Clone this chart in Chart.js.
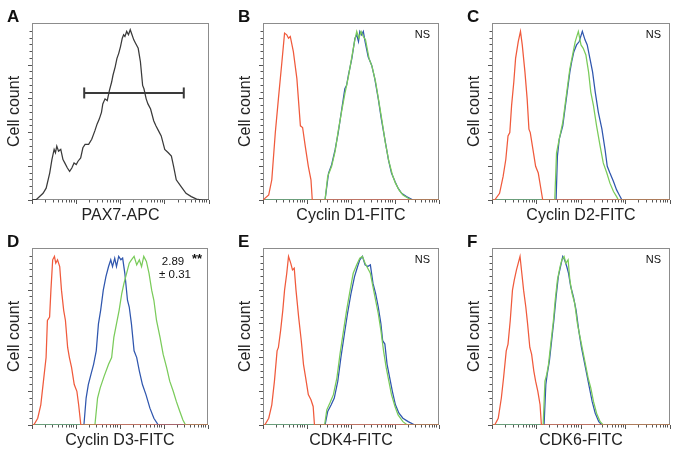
<!DOCTYPE html>
<html>
<head>
<meta charset="utf-8">
<script src="https://cdn.jsdelivr.net/npm/chart.js@4.4.1/dist/chart.umd.min.js"></script>
<style>
  body { margin: 0; background: #fff; }
  #fig { position: relative; width: 678px; height: 458px; }
  #fig canvas { position: absolute; }
</style>
</head>
<body>
<div id="fig"></div>
<script>
// x = position in log decades (0 -> 10^0 ... 4 -> 10^4), y = % of peak count
const pax7 = [[0,0],[0.1,0.3],[0.25,4],[0.32,7],[0.4,16],[0.45,24],[0.5,30],[0.53,28],[0.56,32],[0.6,29],[0.65,30],[0.7,24],[0.74,22],[0.8,19],[0.85,17],[0.9,19],[0.95,22],[1.0,21],[1.04,23],[1.1,25],[1.15,31],[1.2,33],[1.28,33],[1.35,36],[1.42,41],[1.47,45],[1.52,48],[1.57,52],[1.6,57],[1.65,60],[1.7,59],[1.75,65],[1.8,70],[1.83,74],[1.88,79],[1.92,84],[1.96,87],[2.0,91],[2.04,96],[2.07,98],[2.1,97],[2.14,100],[2.18,98],[2.22,101],[2.26,98],[2.3,95],[2.34,93],[2.4,90],[2.45,82],[2.5,68],[2.53,66],[2.58,60],[2.62,57],[2.68,54],[2.75,47],[2.8,44],[2.86,41],[2.92,38],[3.0,30],[3.08,28],[3.15,26],[3.2,20],[3.26,12],[3.37,8],[3.48,4],[3.6,2],[3.72,0.5],[3.85,0],[4,0]];
const gateA = [[1.18,63.5],[3.43,63.5]];

const redB = [[0,0],[0.13,3],[0.2,12],[0.28,40],[0.35,60],[0.43,82],[0.49,99],[0.54,98],[0.58,96],[0.62,97],[0.69,88],[0.77,72],[0.85,44],[0.9,43],[0.96,32],[1.03,20],[1.09,12],[1.12,0],[4,0]];
const blueB = [[0,0],[1.41,0],[1.49,16],[1.56,21],[1.64,30],[1.71,40],[1.79,54],[1.86,66],[1.9,68],[1.94,74],[2.02,84],[2.09,96],[2.13,98],[2.17,94],[2.2,100],[2.24,98],[2.28,100],[2.32,94],[2.39,85],[2.47,80],[2.54,72],[2.62,60],[2.69,48],[2.77,36],[2.85,24],[2.92,16],[3.0,11],[3.07,7],[3.15,4],[3.26,2],[3.41,0],[4,0]];
const greenB = [[0,0],[1.41,0],[1.47,14],[1.56,20],[1.64,29],[1.71,41],[1.79,53],[1.86,63],[1.94,73],[2.02,85],[2.08,94],[2.13,100],[2.18,96],[2.23,100],[2.28,97],[2.33,95],[2.41,84],[2.48,79],[2.56,70],[2.63,59],[2.71,46],[2.78,34],[2.86,23],[2.94,15],[3.01,10],[3.09,6],[3.18,3],[3.3,1],[3.37,0],[4,0]];

const redC = [[0,0],[0.06,0],[0.17,4],[0.25,14],[0.31,24],[0.36,38],[0.4,40],[0.44,56],[0.49,70],[0.53,84],[0.59,94],[0.64,100],[0.68,92],[0.74,76],[0.79,60],[0.83,42],[0.86,40],[0.92,30],[0.98,20],[1.04,16],[1.09,8],[1.14,0],[4,0]];
const blueC = [[0,0],[1.44,0],[1.47,26],[1.51,36],[1.59,44],[1.64,54],[1.69,64],[1.75,76],[1.79,82],[1.84,88],[1.9,92],[1.96,94],[2.03,100],[2.09,95],[2.14,92],[2.2,84],[2.26,76],[2.32,64],[2.39,52],[2.47,42],[2.54,30],[2.59,20],[2.65,16],[2.73,11],[2.8,6],[2.86,3],[2.92,0],[4,0]];
const greenC = [[0,0],[1.41,0],[1.45,28],[1.51,36],[1.59,46],[1.64,56],[1.69,66],[1.75,78],[1.81,86],[1.87,94],[1.94,100],[2.0,92],[2.05,90],[2.11,86],[2.17,76],[2.22,64],[2.28,56],[2.35,44],[2.43,32],[2.5,22],[2.58,16],[2.65,10],[2.73,5],[2.8,2],[2.84,0],[4,0]];

const redD = [[0,0],[0.04,0],[0.13,4],[0.2,12],[0.26,26],[0.32,40],[0.35,62],[0.4,64],[0.43,80],[0.47,98],[0.51,100],[0.54,96],[0.58,98],[0.63,94],[0.67,80],[0.72,68],[0.76,62],[0.81,46],[0.85,40],[0.9,34],[0.96,24],[1.02,20],[1.06,12],[1.11,0],[4,0]];
const blueD = [[0,0],[1.18,0],[1.23,16],[1.28,24],[1.34,30],[1.4,36],[1.46,44],[1.51,60],[1.56,68],[1.62,80],[1.68,88],[1.74,94],[1.79,98],[1.83,94],[1.88,99],[1.92,94],[1.97,100],[2.02,98],[2.06,99],[2.11,90],[2.17,74],[2.21,70],[2.26,60],[2.32,44],[2.38,40],[2.44,32],[2.51,24],[2.59,18],[2.68,10],[2.77,4],[2.87,0],[4,0]];
const greenD = [[0,0],[1.43,0],[1.49,16],[1.55,22],[1.64,29],[1.74,36],[1.81,40],[1.86,52],[1.92,60],[1.98,68],[2.04,78],[2.09,84],[2.15,90],[2.21,96],[2.26,98],[2.32,100],[2.38,95],[2.44,98],[2.49,94],[2.54,100],[2.6,97],[2.66,90],[2.72,80],[2.77,74],[2.83,62],[2.91,52],[2.98,42],[3.06,34],[3.13,26],[3.21,20],[3.28,14],[3.36,8],[3.43,3],[3.49,0],[4,0]];

const redE = [[0,0],[0.04,0],[0.13,4],[0.2,12],[0.26,26],[0.32,44],[0.35,46],[0.4,56],[0.45,68],[0.49,80],[0.54,90],[0.58,100],[0.63,96],[0.67,92],[0.71,93],[0.75,80],[0.81,64],[0.87,50],[0.92,36],[0.97,28],[1.03,18],[1.09,15],[1.14,11],[1.17,0],[4,0]];
const blueE = [[0,0],[1.41,0],[1.47,8],[1.55,12],[1.62,16],[1.7,26],[1.77,40],[1.85,54],[1.92,66],[2.0,78],[2.08,88],[2.15,94],[2.2,98],[2.26,100],[2.32,95],[2.38,94],[2.44,95],[2.5,84],[2.56,78],[2.62,70],[2.68,60],[2.72,50],[2.77,48],[2.82,36],[2.88,28],[2.94,20],[3.01,12],[3.09,7],[3.18,4],[3.3,2],[3.45,0],[4,0]];
const greenE = [[0,0],[1.4,0],[1.45,9],[1.52,13],[1.6,18],[1.68,28],[1.75,42],[1.83,56],[1.9,68],[1.98,80],[2.05,90],[2.13,95],[2.2,99],[2.26,100],[2.32,96],[2.38,93],[2.44,90],[2.5,82],[2.56,74],[2.62,66],[2.68,56],[2.74,44],[2.8,34],[2.86,26],[2.92,18],[3.0,11],[3.07,6],[3.18,2],[3.28,0],[4,0]];

const redF = [[0,0],[0.06,0],[0.14,4],[0.21,16],[0.26,28],[0.32,44],[0.36,48],[0.41,62],[0.46,80],[0.5,86],[0.55,92],[0.59,96],[0.63,100],[0.67,90],[0.71,80],[0.76,70],[0.8,60],[0.85,46],[0.89,42],[0.94,32],[0.98,26],[1.03,20],[1.08,12],[1.11,0],[4,0]];
const blueF = [[0,0],[1.17,0],[1.21,24],[1.24,30],[1.29,38],[1.34,50],[1.39,62],[1.44,76],[1.49,88],[1.54,94],[1.59,100],[1.63,98],[1.68,94],[1.72,90],[1.77,82],[1.83,76],[1.89,68],[1.95,56],[2.01,46],[2.07,38],[2.13,30],[2.19,22],[2.25,14],[2.32,7],[2.4,2],[2.47,0],[4,0]];
const greenF = [[0,0],[1.15,0],[1.19,26],[1.23,30],[1.27,36],[1.32,48],[1.38,62],[1.42,74],[1.47,86],[1.53,94],[1.57,98],[1.62,100],[1.66,96],[1.71,98],[1.75,86],[1.8,78],[1.86,72],[1.92,60],[1.98,52],[2.04,44],[2.1,36],[2.16,28],[2.22,22],[2.28,14],[2.35,7],[2.43,2],[2.5,0],[4,0]];

const letters = ["A", "B", "C", "D", "E", "F"];
const xTitles = ["PAX7-APC", "Cyclin D1-FITC", "Cyclin D2-FITC", "Cyclin D3-FITC", "CDK4-FITC", "CDK6-FITC"];
const yTitle = "Cell count";

const RED = "#f05a3c", BLUE = "#2f56ae", GREEN = "#7acb5a", GRAY = "#3a3a3a";
const FONT = "'Liberation Sans', Arial, Helvetica, sans-serif";
Chart.defaults.font.family = FONT;
Chart.defaults.color = "#222";

// box around the plot area
const frame = {
    id: "frame",
    beforeDatasetsDraw(chart) {
        const {ctx, chartArea: a} = chart;
        ctx.save();
        ctx.strokeStyle = "#8c8c8c";
        ctx.lineWidth = 1;
        ctx.strokeRect(a.left + 0.5, a.top + 0.5, a.width - 1, a.height - 1);
        ctx.restore();
    },
};

// panel letter + small notes (NS, fold change)
const panelText = {
    id: "panelText",
    afterDraw(chart, args, opts) {
        const {ctx, chartArea: a} = chart;
        ctx.save();
        ctx.fillStyle = "#111";
        ctx.textBaseline = "alphabetic";
        ctx.font = "bold 17px " + FONT;
        ctx.fillText(opts.letter, a.left - 25, a.top - 1);
        (opts.notes || []).forEach(n => {
            ctx.font = n.font + " " + FONT;
            ctx.textAlign = n.align;
            ctx.fillText(n.text, a.right + n.dx, a.top + n.dy);
        });
        ctx.restore();
    },
};

const ns = [{text: "NS", font: "11px", align: "right", dx: -9, dy: 15}];
const foldD = [
    {text: "2.89", font: "11.5px", align: "center", dx: -35, dy: 17},
    {text: "± 0.31", font: "11.5px", align: "center", dx: -33, dy: 30},
    {text: "**", font: "bold 13px", align: "center", dx: -11, dy: 15},
];

function curve(data, color) {
    return {
        data: data.map(([x, y]) => ({x, y})),
        borderColor: color,
        borderWidth: 1.25,
        pointRadius: 0,
        tension: 0,
    };
}

const gate = {
    data: gateA.map(([x, y]) => ({x, y})),
    borderColor: GRAY,
    borderWidth: 2,
    pointStyle: "line",
    pointRadius: 5.5,
    pointRotation: 90,
    pointBorderColor: GRAY,
    pointBorderWidth: 2,
};

const panels = [
    {left: 0, top: 0, w: 225, h: 225, pad: [0, 16, 0], sets: [gate, curve(pax7, GRAY)]},
    {left: 225, top: 0, w: 225, h: 225, pad: [6, 11, 0], sets: [curve(redB, RED), curve(greenB, GREEN), curve(blueB, BLUE)], notes: ns},
    {left: 450, top: 0, w: 228, h: 225, pad: [10, 8, 0], sets: [curve(redC, RED), curve(greenC, GREEN), curve(blueC, BLUE)], notes: ns},
    {left: 0, top: 225, w: 225, h: 233, pad: [0, 17, 8], sets: [curve(redD, RED), curve(greenD, GREEN), curve(blueD, BLUE)], notes: foldD},
    {left: 225, top: 225, w: 225, h: 233, pad: [6, 11, 8], sets: [curve(redE, RED), curve(greenE, GREEN), curve(blueE, BLUE)], notes: ns},
    {left: 450, top: 225, w: 228, h: 233, pad: [10, 8, 8], sets: [curve(redF, RED), curve(greenF, GREEN), curve(blueF, BLUE)], notes: ns},
];

const tickGrid = len => ({drawOnChartArea: false, tickLength: len, tickColor: "#555", lineWidth: 1});

panels.forEach((p, i) => {
    const cv = document.createElement("canvas");
    cv.width = p.w;
    cv.height = p.h;
    cv.style.left = p.left + "px";
    cv.style.top = p.top + "px";
    document.getElementById("fig").appendChild(cv);

    new Chart(cv, {
        type: "line",
        data: {datasets: p.sets},
        options: {
            responsive: false,
            animation: false,
            devicePixelRatio: 1,
            layout: {padding: {left: p.pad[0], right: p.pad[1], top: 23, bottom: p.pad[2]}},
            plugins: {
                legend: {display: false},
                tooltip: {enabled: false},
                panelText: {letter: letters[i], notes: p.notes},
            },
            scales: {
                x: {   // decades
                    type: "linear", position: "bottom", min: 0, max: 4, weight: 1,
                    ticks: {display: false, stepSize: 1},
                    grid: tickGrid(4),
                    border: {display: false},
                    title: {display: true, text: xTitles[i], color: "#222", font: {size: 16}, padding: {top: 0, bottom: 0}},
                    afterFit: s => { s.height = 25; },
                },
                xl: {  // log minor ticks
                    type: "logarithmic", position: "bottom", min: 1, max: 10000, weight: 0,
                    ticks: {display: false, autoSkip: false},
                    grid: tickGrid(2.5),
                    border: {display: false},
                    afterBuildTicks: s => {
                        s.ticks = s.ticks.filter(t => {
                            const m = t.value / Math.pow(10, Math.floor(Math.log10(t.value) + 1e-9));
                            return Math.abs(m - Math.round(m)) < 1e-6;
                        });
                    },
                    afterFit: s => { s.height = 0; },
                },
                y: {
                    type: "linear", position: "left", min: 0, max: 105, weight: 1,
                    ticks: {display: false, stepSize: 20},
                    grid: tickGrid(4),
                    border: {display: false},
                    title: {display: true, text: yTitle, color: "#222", font: {size: 16}, padding: {top: 5, bottom: 0}},
                    afterBuildTicks: s => { s.ticks = s.ticks.filter(t => t.value % 20 === 0); },
                    afterFit: s => { s.width = 32; },
                },
                ym: {
                    type: "linear", position: "left", min: 0, max: 105, weight: 0,
                    ticks: {display: false, stepSize: 4},
                    grid: tickGrid(2.5),
                    border: {display: false},
                    afterBuildTicks: s => { s.ticks = s.ticks.filter(t => t.value % 4 === 0); },
                    afterFit: s => { s.width = 0; },
                },
            },
        },
        plugins: [frame, panelText],
    });
});
</script>
</body>
</html>
